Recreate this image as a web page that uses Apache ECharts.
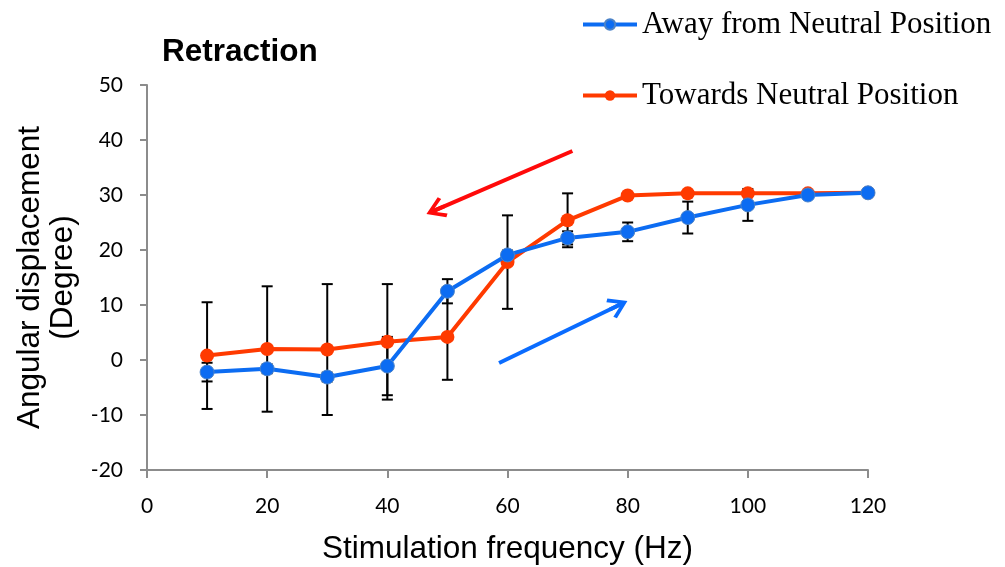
<!DOCTYPE html>
<html>
<head>
<meta charset="utf-8">
<script src="https://cdn.jsdelivr.net/npm/echarts@6/dist/echarts.min.js"></script>
<style>
  html, body { margin: 0; padding: 0; background: #fff; }
  #chart { width: 1005px; height: 567px; }
</style>
</head>
<body>
<div id="chart"></div>
<script>
// stimulation frequencies (Hz)
const freq = [10, 20, 30, 40, 50, 60, 70, 80, 90, 100, 110, 120];
// away from neutral position: mean and error (deg)
const awayMean = [-2.2, -1.6, -3.1, -1.1, 12.5, 19.1, 22.2, 23.3, 25.9, 28.2, 30.0, 30.4];
const awayErr = [1.7, 0.8, 0.8, 5.3, 2.2, 0.8, 1.2, 1.7, 2.9, 2.9, 0.4, 0.2];
// towards neutral position: mean and error (deg)
const towardMean = [0.8, 2.0, 1.9, 3.3, 4.2, 17.8, 25.4, 29.9, 30.3, 30.3, 30.3, 30.4];
const towardErr = [9.7, 11.4, 11.9, 10.5, 7.8, 8.5, 4.9, 0.4, 0.4, 0.4, 0.3, 0.2];

const awayName = 'Away from Neutral Position';
const towardName = 'Towards Neutral Position';
const blue = '#0c6cf2';
const red = '#ff3a00';

// open arrow head, tip at top, with a short shaft stub so the line joins it
const chevron = 'path://M11,0 L22,17 L19,19.5 L13,9.75 L13,19.5 L9,19.5 L9,9.75 L3,19.5 L0,17 Z';

const pairs = (ys) => freq.map((f, i) => [f, ys[i]]);
const errData = (m, e) => freq.map((f, i) => [f, m[i] - e[i], m[i] + e[i]]);

const renderErr = (params, api) => {
    const x = api.value(0);
    const lo = api.coord([x, api.value(1)]);
    const hi = api.coord([x, api.value(2)]);
    const half = 5.5;
    const style = { stroke: '#000', lineWidth: 2 };
    return {
        type: 'group',
        children: [
            { type: 'line', shape: { x1: lo[0], y1: lo[1], x2: hi[0], y2: hi[1] }, style },
            { type: 'line', shape: { x1: lo[0] - half, y1: lo[1], x2: lo[0] + half, y2: lo[1] }, style },
            { type: 'line', shape: { x1: hi[0] - half, y1: hi[1], x2: hi[0] + half, y2: hi[1] }, style }
        ]
    };
};

const myChart = echarts.init(document.getElementById('chart'));
const legendText = {
    fontFamily: 'Liberation Serif',
    fontSize: 31,
    color: '#000',
    lineHeight: 31
};
const legendBase = {
    left: 581,
    padding: 0,
    itemWidth: 54,
    itemHeight: 13,
    lineStyle: { width: 4 },
    textStyle: legendText
};
const option = {
    animation: false,
    title: {
        text: 'Retraction',
        left: 157,
        top: 31,
        textStyle: {
            fontFamily: 'Liberation Sans',
            fontSize: 31.5,
            fontWeight: 'bold',
            color: '#000'
        }
    },
    legend: [
        Object.assign({ data: [awayName], top: 9 }, legendBase),
        Object.assign({ data: [towardName], top: 80 }, legendBase)
    ],
    grid: {
        left: 147,
        right: 137,
        top: 85,
        bottom: 97,
        outerBoundsMode: 'none'
    },
    xAxis: {
        type: 'value',
        min: 0,
        max: 120,
        interval: 20,
        name: 'Stimulation frequency (Hz)',
        nameLocation: 'middle',
        nameGap: 63,
        nameTextStyle: {
            fontFamily: 'Liberation Sans',
            fontSize: 31.5,
            color: '#000'
        },
        axisLine: { onZero: false, lineStyle: { color: '#8c8c8c', width: 2 } },
        axisTick: { length: 8, lineStyle: { color: '#8c8c8c', width: 2 } },
        axisLabel: {
            margin: 26,
            fontFamily: 'Lato',
            fontSize: 21,
            color: '#000'
        },
        splitLine: { show: false }
    },
    yAxis: {
        type: 'value',
        min: -20,
        max: 50,
        interval: 10,
        name: 'Angular displacement\n(Degree)',
        nameLocation: 'middle',
        nameGap: 66,
        nameTextStyle: {
            fontFamily: 'Liberation Sans',
            fontSize: 31.5,
            lineHeight: 33,
            color: '#000'
        },
        axisLine: { show: true, lineStyle: { color: '#8c8c8c', width: 2 } },
        axisTick: { show: true, length: 7, lineStyle: { color: '#8c8c8c', width: 2 } },
        axisLabel: {
            margin: 24,
            fontFamily: 'Lato',
            fontSize: 21,
            color: '#000'
        },
        splitLine: { show: false }
    },
    series: [
        {
            type: 'custom',
            name: 'awayErr',
            renderItem: renderErr,
            data: errData(awayMean, awayErr),
            z: 1,
            silent: true
        },
        {
            type: 'custom',
            name: 'towardErr',
            renderItem: renderErr,
            data: errData(towardMean, towardErr),
            z: 1,
            silent: true
        },
        {
            type: 'line',
            name: towardName,
            data: pairs(towardMean),
            z: 3,
            symbol: 'circle',
            symbolSize: 14,
            color: red,
            lineStyle: { color: red, width: 4 },
            itemStyle: { color: red },
            markLine: {
                silent: true,
                symbol: ['none', chevron],
                symbolSize: [22, 19.5],
                label: { show: false },
                lineStyle: { color: '#ff0a0a', width: 4, type: 'solid' },
                data: [[{ coord: [70.8, 38.0] }, { coord: [48.0, 27.25] }]]
            }
        },
        {
            type: 'line',
            name: awayName,
            data: pairs(awayMean),
            z: 4,
            symbol: 'circle',
            symbolSize: 14,
            color: blue,
            lineStyle: { color: blue, width: 4 },
            itemStyle: { color: blue, borderColor: '#4a82c8', borderWidth: 1 },
            markLine: {
                silent: true,
                symbol: ['none', chevron],
                symbolSize: [22, 19.5],
                label: { show: false },
                lineStyle: { color: '#0a6cff', width: 4, type: 'solid' },
                data: [[{ coord: [58.6, -0.55] }, { coord: [78.5, 9.95] }]]
            }
        }
    ]
};
myChart.setOption(option);
</script>
</body>
</html>
